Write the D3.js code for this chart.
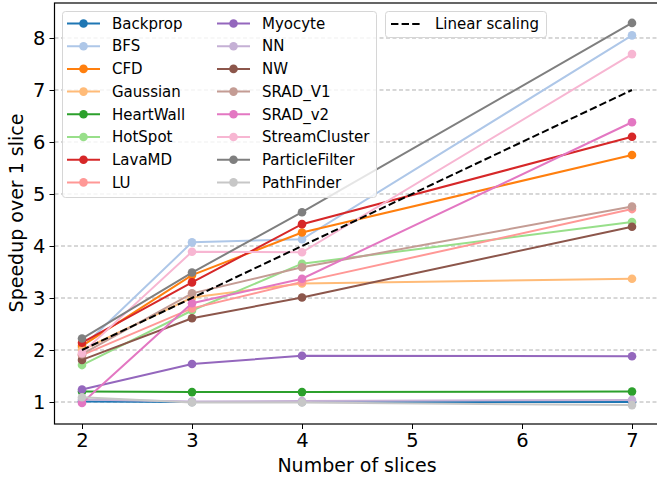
<!DOCTYPE html>
<html>
<head>
<meta charset="utf-8">
<script src="https://cdn.jsdelivr.net/npm/d3@7"></script>
<style>
  body { margin: 0; background: #fff; }
  svg { font-family: "DejaVu Sans", sans-serif; }
</style>
</head>
<body>
<div id="chart"></div>
<script>
// slices on the x axis
var slices = [2, 3, 4, 7];

var names = ["Backprop", "BFS", "CFD", "Gaussian", "HeartWall", "HotSpot", "LavaMD", "LU",
             "Myocyte", "NN", "NW", "SRAD_V1", "SRAD_v2", "StreamCluster", "ParticleFilter", "PathFinder"];

var colors = ["#1f77b4", "#aec7e8", "#ff7f0e", "#ffbb78", "#2ca02c", "#98df8a", "#d62728", "#ff9896",
              "#9467bd", "#c5b0d5", "#8c564b", "#c49c94", "#e377c2", "#f7b6d2", "#7f7f7f", "#c7c7c7"];

// speedup per benchmark, one value per slice count
var backprop       = [1.01, 1.00, 1.00, 1.00];
var bfs            = [2.05, 4.07, 4.13, 8.05];
var cfd            = [2.08, 3.44, 4.26, 5.75];
var gaussian       = [2.00, 3.01, 3.28, 3.37];
var heartwall      = [1.20, 1.19, 1.19, 1.20];
var hotspot        = [1.71, 2.76, 3.66, 4.46];
var lavamd         = [2.14, 3.30, 4.42, 6.10];
var lu             = [1.90, 2.80, 3.31, 4.71];
var myocyte        = [1.24, 1.73, 1.89, 1.88];
var nn             = [1.05, 1.01, 1.02, 1.04];
var nw             = [1.81, 2.61, 3.01, 4.37];
var srad_v1        = [1.92, 3.09, 3.59, 4.76];
var srad_v2        = [0.98, 2.90, 3.37, 6.38];
var streamcluster  = [1.94, 3.89, 3.88, 7.69];
var particlefilter = [2.22, 3.49, 4.65, 8.29];
var pathfinder     = [1.09, 0.99, 0.99, 0.94];

var linearX = [2, 7];
var linearY = [2, 7];

var xTicks = [2, 3, 4, 5, 6, 7];
var yTicks = [1, 2, 3, 4, 5, 6, 7, 8];

var series = [backprop, bfs, cfd, gaussian, heartwall, hotspot, lavamd, lu,
              myocyte, nn, nw, srad_v1, srad_v2, streamcluster, particlefilter, pathfinder];

var W = 657, H = 481;

var x = d3.scaleLinear().domain([1.75, 7.25]).range([54.5, 659.5]);
var y = d3.scaleLinear().domain([0.577, 8.673]).range([424, 3]);

var svg = d3.select("#chart").append("svg")
    .attr("width", W)
    .attr("height", H);

// grid
svg.append("g")
  .selectAll("line")
  .data(yTicks)
  .enter().append("line")
    .attr("x1", 54.5).attr("x2", 659.5)
    .attr("y1", function(d) { return y(d); })
    .attr("y2", function(d) { return y(d); })
    .attr("stroke", "#b0b0b0")
    .attr("stroke-width", 1)
    .attr("stroke-dasharray", "4,2.5");

var line = d3.line()
    .x(function(d, i) { return x(slices[i]); })
    .y(function(d) { return y(d); });

series.forEach(function(s, k) {
  svg.append("path")
    .attr("d", line(s))
    .attr("fill", "none")
    .attr("stroke", colors[k])
    .attr("stroke-width", 2);
  svg.selectAll(".dot" + k)
    .data(s)
    .enter().append("circle")
      .attr("cx", function(d, i) { return x(slices[i]); })
      .attr("cy", function(d) { return y(d); })
      .attr("r", 4.3)
      .attr("fill", colors[k]);
});

// linear scaling
svg.append("path")
  .attr("d", d3.line().x(function(d) { return x(d); }).y(function(d, i) { return y(linearY[i]); })(linearX))
  .attr("fill", "none")
  .attr("stroke", "#000")
  .attr("stroke-width", 2)
  .attr("stroke-dasharray", "7.4,3.2");

// axes
var xAxis = svg.append("g")
    .attr("transform", "translate(0,424)")
    .call(d3.axisBottom(x).tickValues(xTicks).tickSize(5).tickPadding(4).tickFormat(d3.format("d")));
var yAxis = svg.append("g")
    .attr("transform", "translate(54.5,0)")
    .call(d3.axisLeft(y).tickValues(yTicks).tickSize(5).tickPadding(4).tickFormat(d3.format("d")));

[xAxis, yAxis].forEach(function(a) {
  a.select(".domain").remove();
  a.selectAll("text").style("font-size", "19.5px").attr("fill", "#000").style("font-family", "DejaVu Sans");
  a.selectAll("line").attr("stroke", "#000").attr("stroke-width", 1);
});

// frame
svg.append("rect")
  .attr("x", 54.5).attr("y", 3)
  .attr("width", 605).attr("height", 421)
  .attr("fill", "none")
  .attr("stroke", "#000")
  .attr("stroke-width", 1.2);

// axis labels
svg.append("text")
  .attr("x", 357).attr("y", 472)
  .attr("text-anchor", "middle")
  .style("font-size", "19px")
  .text("Number of slices");

svg.append("text")
  .attr("transform", "translate(23,213) rotate(-90)")
  .attr("text-anchor", "middle")
  .style("font-size", "19px")
  .text("Speedup over 1 slice");

// legend for benchmarks
var leg = svg.append("g");
leg.append("rect")
  .attr("x", 62.5).attr("y", 11.5)
  .attr("width", 314).attr("height", 186)
  .attr("rx", 3)
  .attr("fill", "#fff").attr("fill-opacity", 0.8)
  .attr("stroke", "#d6d6d6");

names.forEach(function(n, k) {
  var col = k < 8 ? 0 : 1;
  var row = k < 8 ? k : k - 8;
  var lx = col === 0 ? 67 : 217;
  var ly = 23.5 + row * 22.7;
  leg.append("line")
    .attr("x1", lx).attr("x2", lx + 33)
    .attr("y1", ly).attr("y2", ly)
    .attr("stroke", colors[k]).attr("stroke-width", 2);
  leg.append("circle")
    .attr("cx", lx + 16.5).attr("cy", ly).attr("r", 4.3)
    .attr("fill", colors[k]);
  leg.append("text")
    .attr("x", lx + 45).attr("y", ly)
    .attr("dy", "0.35em")
    .style("font-size", "15px")
    .text(n);
});

// legend for linear scaling
var leg2 = svg.append("g");
leg2.append("rect")
  .attr("x", 385.5).attr("y", 11.5)
  .attr("width", 161).attr("height", 26)
  .attr("rx", 3)
  .attr("fill", "#fff").attr("fill-opacity", 0.8)
  .attr("stroke", "#d6d6d6");
leg2.append("line")
  .attr("x1", 391).attr("x2", 421)
  .attr("y1", 24).attr("y2", 24)
  .attr("stroke", "#000").attr("stroke-width", 2)
  .attr("stroke-dasharray", "7.4,3.2");
leg2.append("text")
  .attr("x", 435).attr("y", 24)
  .attr("dy", "0.35em")
  .style("font-size", "15px")
  .text("Linear scaling");
</script>
</body>
</html>
